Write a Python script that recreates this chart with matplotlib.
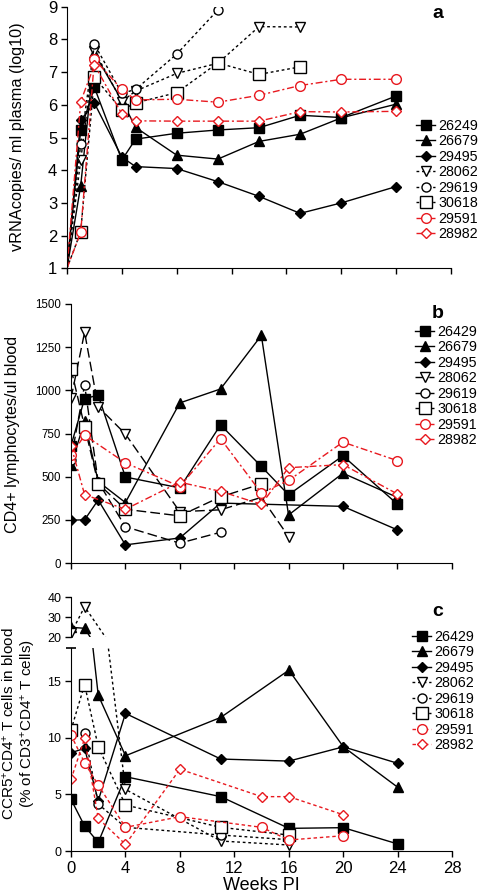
#!/usr/bin/env python3
"""
Three stacked panels: plasma viral RNA, CD4+ counts and CCR5+CD4+ T cell
fraction per animal over weeks post infection.
"""

import numpy as np
import matplotlib
matplotlib.use("Agg")
import matplotlib.pyplot as plt

plt.rcParams['font.family'] = ['Liberation Sans', 'DejaVu Sans']
plt.rcParams['mathtext.fontset'] = 'custom'
plt.rcParams['mathtext.rm'] = 'Liberation Sans'
plt.rcParams['mathtext.it'] = 'Liberation Sans:italic'

RED = '#e8191f'
NAN = np.nan

# ---- panel a: vRNA copies / ml plasma (log10)
weeks_a = [0, 1, 2, 4, 5, 8, 11, 14, 17, 20, 24]
ids_a = ['26249', '26679', '29495', '28062', '29619', '30618', '29591', '28982']
vrna_26249 = [1, 5.23, 6.53, 4.31, 4.95, 5.13, 5.23, 5.30, 5.68, 5.61, 6.27]
vrna_26679 = [1, 3.53, 7.57, 6.13, 5.31, 4.46, 4.34, 4.88, 5.10, 5.60, 6.02]
vrna_29495 = [1, 5.54, 6.05, 4.40, 4.11, 4.05, 3.65, 3.20, 2.68, 3.00, 3.50]
vrna_28062 = [1, 4.30, 7.65, 6.10, 6.42, 6.96, 7.27, 8.39, 8.38, NAN, NAN]
vrna_29619 = [1, 4.80, 7.85, 6.35, 6.47, 7.55, 8.90, NAN, NAN, NAN, NAN]
vrna_30618 = [1, 2.12, 6.84, 5.84, 6.06, 6.37, 7.28, 6.93, 7.16, NAN, NAN]
vrna_29591 = [1, 2.10, 7.39, 6.47, 6.15, 6.17, 6.08, 6.29, 6.59, 6.78, 6.78]
vrna_28982 = [1, 6.10, 7.22, 5.72, 5.51, 5.50, 5.50, 5.50, 5.79, 5.78, 5.80]

# ---- panel b: CD4+ lymphocytes / ul blood
weeks_b = [0, 1, 2, 4, 8, 11, 14, 16, 20, 24]
ids_b = ['26429', '26679', '29495', '28062', '29619', '30618', '29591', '28982']
cd4_26429 = [680, 952, 972, 498, 435, 800, 559, 395, 621, 341]
cd4_26679 = [567, 820, 472, 350, 927, 1008, 1318, 278, 520, 380]
cd4_29495 = [248, 250, 365, 105, 145, 347, NAN, NAN, 328, 192]
cd4_28062 = [954, 1336, 905, 747, 297, 308, 380, 153, NAN, NAN]
cd4_29619 = [597, 1032, 470, 210, 115, 178, NAN, NAN, NAN, NAN]
cd4_30618 = [1125, 790, 460, 311, 273, 383, 458, NAN, NAN, NAN]
cd4_29591 = [623, 740, NAN, 580, 443, 720, 405, 478, 700, 593]
cd4_28982 = [680, 396, NAN, 311, 468, 415, 340, 552, 570, 400]

# ---- panel c: CCR5+CD4+ T cells (% of CD3+CD4+)
weeks_c = [0, 1, 2, 4, 8, 11, 14, 16, 20, 24]
ids_c = ['26429', '26679', '29495', '28062', '29619', '30618', '29591', '28982']
ccr5_26429 = [4.56, 2.20, 0.76, 6.56, NAN, 4.80, NAN, 2.00, 2.06, 0.62]
ccr5_26679 = [25.0, 24.5, 13.76, 8.41, NAN, 11.8, NAN, 15.97, 9.20, 5.62]
ccr5_29495 = [8.68, 9.06, 4.44, 12.15, NAN, 8.12, NAN, 7.94, 9.20, 7.74]
ccr5_28062 = [22.0, 35.3, NAN, 5.44, NAN, 0.88, NAN, 0.53, NAN, NAN]
ccr5_29619 = [NAN, 10.44, 4.15, 2.09, NAN, 1.41, NAN, 1.00, NAN, NAN]
ccr5_30618 = [10.68, 14.70, 9.20, 4.06, NAN, 2.09, NAN, 1.41, NAN, NAN]
ccr5_29591 = [10.24, 7.79, 5.82, 2.09, 3.03, NAN, 2.09, 0.97, 1.35, NAN]
ccr5_28982 = [6.32, 9.94, 2.88, 0.59, 7.22, NAN, 4.80, 4.80, 3.20, NAN]

# marker: (shape, size, face, edge)
MARKERS = [('s', 7.5, 'k', 'k'), ('^', 7, 'k', 'k'), ('D', 5, 'k', 'k'),
           ('v', 7, 'white', 'k'), ('o', 6.5, 'white', 'k'), ('s', 8, 'white', 'k'),
           ('o', 7, 'white', RED), ('D', 5.5, 'white', RED)]

W, H = 480, 894


def box(left, top, right, bottom):
    return [left / W, 1 - bottom / H, (right - left) / W, (bottom - top) / H]


def draw(ax, weeks, values, idx, dash, skip_first=False, label=None):
    x = np.array(weeks, float)
    y = np.array(values, float)
    ok = ~np.isnan(y)
    x, y = x[ok], y[ok]
    m, ms, fc, ec = MARKERS[idx]
    line, = ax.plot(x, y, color=ec, lw=1.0, marker=m, ms=ms, mfc=fc, mec=ec,
                    mew=1.0, label=label,
                    markevery=list(range(1, len(x))) if skip_first else None)
    if dash is not None:
        line.set_dashes(dash)
    return line


def style_axis(ax, ylabel_size):
    ax.spines['top'].set_visible(False)
    ax.spines['right'].set_visible(False)
    ax.tick_params(direction='out', length=4, width=1, labelsize=ylabel_size, pad=3)
    ax.set_xlim(0, 28)
    ax.set_xticks(range(0, 29, 4))


def add_legend(fig, ax, handles, labels, left, top, size=10.3):
    ax.legend(handles, labels, loc='upper left', frameon=False,
              bbox_to_anchor=(left / W, 1 - top / H), bbox_transform=fig.transFigure,
              fontsize=size, handlelength=1.35, handletextpad=0.2,
              labelspacing=0.1, borderpad=0, borderaxespad=0)


fig = plt.figure(figsize=(4.8, 8.94), dpi=100)

# ---------------- panel a
ax_a = fig.add_axes(box(67, 6.7, 451, 268.3))
style_axis(ax_a, 12)
ax_a.set_ylim(1, 9)
ax_a.set_yticks(range(1, 10))
ax_a.set_xticklabels([])
dash_a = [None, None, None, (2, 2), (2, 2), (2, 2), (5, 2, 1.5, 2), (5, 2, 1.5, 2)]
series_a = [vrna_26249, vrna_26679, vrna_29495, vrna_28062,
            vrna_29619, vrna_30618, vrna_29591, vrna_28982]
lines_a = [draw(ax_a, weeks_a, s, i, dash_a[i], skip_first=True)
           for i, s in enumerate(series_a)]
add_legend(fig, ax_a, lines_a, ids_a, 416, 119)
fig.text(18 / W, 1 - 137 / H, 'vRNAcopies/ ml plasma (log10)', rotation=90,
         ha='center', va='center', fontsize=11.7)
fig.text(438 / W, 1 - 14 / H, 'a', fontsize=14, fontweight='bold',
         ha='center', va='center')

# ---------------- panel b
ax_b = fig.add_axes(box(71, 304, 451.7, 563))
style_axis(ax_b, 8.3)
ax_b.set_ylim(0, 1500)
ax_b.set_yticks(range(0, 1501, 250))
ax_b.set_xticklabels([])
dash_b = [None, None, None, (7, 3), (7, 3), (7, 3), (5, 2, 1.5, 2), (5, 2, 1.5, 2)]
series_b = [cd4_26429, cd4_26679, cd4_29495, cd4_28062,
            cd4_29619, cd4_30618, cd4_29591, cd4_28982]
lines_b = [draw(ax_b, weeks_b, s, i, dash_b[i]) for i, s in enumerate(series_b)]
add_legend(fig, ax_b, lines_b, ids_b, 415, 325)
fig.text(13 / W, 1 - 434 / H, 'CD4+ lymphocytes/ul blood', rotation=90,
         ha='center', va='center', fontsize=11.6)
fig.text(438 / W, 1 - 313 / H, 'b', fontsize=14, fontweight='bold',
         ha='center', va='center')

# ---------------- panel c (broken y axis)
ax_hi = fig.add_axes(box(71, 597.3, 452.3, 637.3))
ax_lo = fig.add_axes(box(71, 648.3, 452.3, 851))
for ax in (ax_hi, ax_lo):
    style_axis(ax, 9)
ax_hi.set_ylim(20, 40)
ax_hi.set_yticks([20, 30, 40])
ax_hi.spines['bottom'].set_visible(False)
ax_hi.tick_params(axis='x', bottom=False, labelbottom=False)
ax_lo.set_ylim(0, 17.9)
ax_lo.set_yticks([0, 5, 10, 15])
ax_lo.tick_params(axis='x', labelsize=12)
ax_lo.plot([0], [17.9], marker='_', ms=7, mew=1.2, color='k', clip_on=False)

dash_c = [None, None, None, (2, 2), (2, 2), (2, 2), (2.5, 2), (2.5, 2)]
series_c = [ccr5_26429, ccr5_26679, ccr5_29495, ccr5_28062,
            ccr5_29619, ccr5_30618, ccr5_29591, ccr5_28982]
lines_c = []
for i, s in enumerate(series_c):
    draw(ax_hi, weeks_c, s, i, dash_c[i])
    lines_c.append(draw(ax_lo, weeks_c, s, i, dash_c[i]))
add_legend(fig, ax_lo, lines_c, ids_c, 412, 630)
ax_lo.set_xlabel('Weeks PI', fontsize=13, labelpad=1)
fig.text(19 / W, 1 - 724 / H,
         'CCR5$^{+}$CD4$^{+}$ T cells in blood\n(% of CD3$^{+}$CD4$^{+}$ T cells)',
         rotation=90, ha='center', va='center', fontsize=11, linespacing=1.2,
         multialignment='center')
fig.text(438 / W, 1 - 612 / H, 'c', fontsize=14, fontweight='bold',
         ha='center', va='center')

fig.savefig('out.png', dpi=100)
